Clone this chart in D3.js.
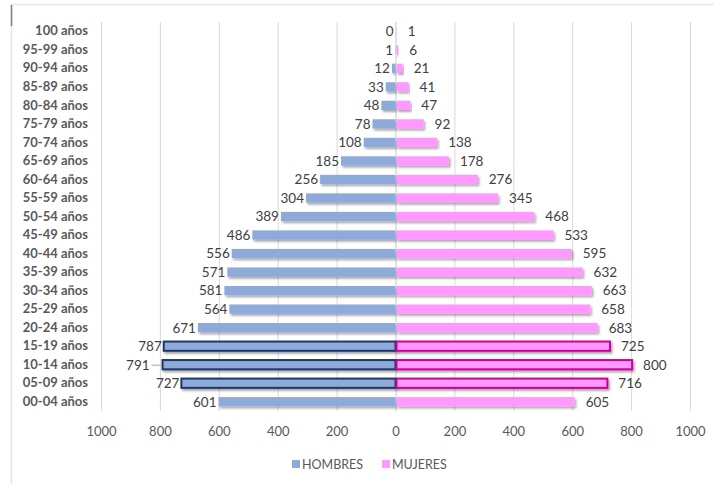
<!DOCTYPE html>
<html>
<head>
<meta charset="utf-8">
<script src="https://cdn.jsdelivr.net/npm/d3@7/dist/d3.min.js"></script>
<style>
  html, body { margin: 0; padding: 0; background: #fff; }
  svg { display: block; font-family: Lato, "Open Sans", sans-serif; }
</style>
</head>
<body>
<svg id="chart" width="714" height="484"></svg>
<script>
const categories = ["100 años","95-99 años","90-94 años","85-89 años","80-84 años","75-79 años","70-74 años","65-69 años","60-64 años","55-59 años","50-54 años","45-49 años","40-44 años","35-39 años","30-34 años","25-29 años","20-24 años","15-19 años","10-14 años","05-09 años","00-04 años"];
const hombres = [0,1,12,33,48,78,108,185,256,304,389,486,556,571,581,564,671,787,791,727,601];
const mujeres = [1,6,21,41,47,92,138,178,276,345,468,533,595,632,663,658,683,725,800,716,605];
const highlighted = ["15-19 años","10-14 años","05-09 años"];
const tickValues = [-1000,-800,-600,-400,-200,0,200,400,600,800,1000];
const seriesNames = ["HOMBRES","MUJERES"];

const colMale = "#8eaadb", colFemale = "#ff99ff";
const strokeMale = "#1f3864", strokeFemale = "#cc0099";

const svg = d3.select("#chart");

// chart frame
svg.append("line").attr("x1",11).attr("x2",714).attr("y1",4.5).attr("y2",4.5).attr("stroke","#e6e6e6").attr("stroke-width",1.5);
svg.append("line").attr("x1",11.5).attr("x2",11.5).attr("y1",4).attr("y2",484).attr("stroke","#e6e6e6").attr("stroke-width",1.5);
svg.append("line").attr("x1",11.5).attr("x2",11.5).attr("y1",5).attr("y2",26).attr("stroke","#7f7f7f").attr("stroke-width",1.5);

const defs = svg.append("defs");
const f = defs.append("filter").attr("id","shadow").attr("x","-10%").attr("y","-50%").attr("width","120%").attr("height","250%");
f.append("feDropShadow").attr("dx",1.5).attr("dy",2).attr("stdDeviation",1.2).attr("flood-color","#000").attr("flood-opacity",0.35);

const x = d3.scaleLinear().domain([-1000,1000]).range([101,690]);
const y = d3.scaleBand().domain(categories).range([22,411]).paddingInner(0.5).paddingOuter(0.25);

// gridlines
svg.append("g").selectAll("line").data(tickValues).join("line")
  .attr("x1",d=>x(d)+0.5).attr("x2",d=>x(d)+0.5)
  .attr("y1",22).attr("y2",411)
  .attr("stroke",d=>d===0?"#c8c8c8":"#d9d9d9").attr("stroke-width",1);

// axis labels
const xAxis = d3.axisBottom(x).tickValues(tickValues).tickFormat(d=>Math.abs(d)).tickSize(0).tickPadding(0);
const gx = svg.append("g").attr("transform","translate(0,427)").call(xAxis);
gx.select(".domain").remove();
gx.selectAll("text").attr("fill","#595959").attr("font-size","13px").attr("font-family","Lato, sans-serif");

// category labels
const yAxis = d3.axisLeft(y).tickSize(0).tickPadding(0);
const gy = svg.append("g").attr("transform","translate(88,0)").call(yAxis);
gy.select(".domain").remove();
gy.selectAll("text").attr("fill","#595959").attr("font-size","13px").attr("font-weight","bold").attr("font-family","Lato, sans-serif");

const rows = categories.map((c,i)=>({c, m:hombres[i], w:mujeres[i], hi: highlighted.includes(c)}));
const bh = y.bandwidth();

// male bars
svg.append("g").selectAll("rect").data(rows).join("rect")
  .attr("x",d=>x(-d.m)).attr("width",d=>x(0)-x(-d.m))
  .attr("y",d=>y(d.c)).attr("height",bh)
  .attr("fill",colMale)
  .attr("stroke",d=>d.hi?strokeMale:"none").attr("stroke-width",2)
  .attr("filter","url(#shadow)");

// female bars
svg.append("g").selectAll("rect").data(rows).join("rect")
  .attr("x",x(0)+1).attr("width",d=>x(d.w)-x(0))
  .attr("y",d=>y(d.c)).attr("height",bh)
  .attr("fill",colFemale)
  .attr("stroke",d=>d.hi?strokeFemale:"none").attr("stroke-width",2)
  .attr("filter","url(#shadow)");

// male labels
svg.append("g").selectAll("text").data(rows).join("text")
  .attr("x",d=>x(-d.m) - (d.c==="10-14 años"?13:2))
  .attr("y",d=>y(d.c)+bh/2).attr("dy","0.36em")
  .attr("text-anchor","end").attr("fill","#404040").attr("font-size","13.5px")
  .text(d=>d.m);
// leader line for 10-14
const r1014 = rows.find(d=>d.c==="10-14 años");
svg.append("line").attr("x1",x(-r1014.m)-11).attr("x2",x(-r1014.m)-2)
  .attr("y1",y(r1014.c)+bh/2+0.5).attr("y2",y(r1014.c)+bh/2+0.5).attr("stroke","#a6a6a6");

// female labels
svg.append("g").selectAll("text").data(rows).join("text")
  .attr("x",d=>x(d.w)+12)
  .attr("y",d=>y(d.c)+bh/2).attr("dy","0.36em")
  .attr("text-anchor","start").attr("fill","#404040").attr("font-size","13.5px")
  .text(d=>d.w);

// legend
const legend = svg.append("g");
const lx = [292, 382];
seriesNames.forEach((n,i)=>{
  legend.append("rect").attr("x",lx[i]).attr("y",460).attr("width",8).attr("height",8).attr("fill",i===0?colMale:colFemale);
  legend.append("text").attr("x",lx[i]+10).attr("y",464.5).attr("dy","0.36em").attr("fill","#595959").attr("font-size","12.5px").text(n);
});
</script>
</body>
</html>
